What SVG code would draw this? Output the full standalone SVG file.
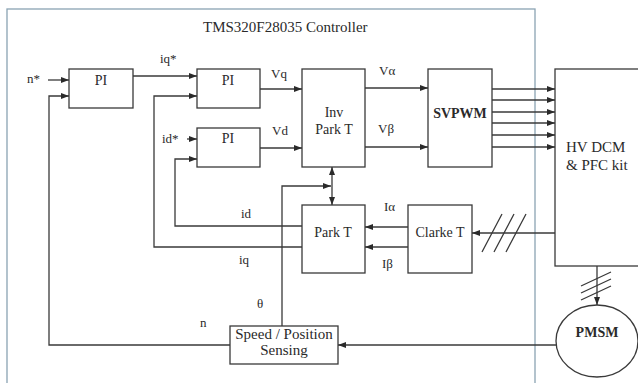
<svg xmlns="http://www.w3.org/2000/svg" width="638" height="383" viewBox="0 0 638 383" font-family="'Liberation Serif', 'DejaVu Serif', serif">
<style>
.box{fill:#fff;stroke:#3a3a3a;stroke-width:1.3}
.ln{fill:none;stroke:#3a3a3a;stroke-width:1.3}
.ar{marker-end:url(#ah)}
text{font-family:'Liberation Serif','DejaVu Serif',serif;fill:#2a2a2a;font-size:14px}
.c{text-anchor:middle}
.b{font-weight:bold}
.s{font-size:13px}
.l{font-size:15px}
</style>
<defs>
<marker id="ah" viewBox="0 0 8 6" refX="8" refY="3" markerWidth="8" markerHeight="6" markerUnits="userSpaceOnUse" orient="auto-start-reverse">
<path d="M0,0 L8,3 L0,6 z" fill="#2a2a2a"/>
</marker>
</defs>
<rect width="638" height="383" fill="#fff"/>
<g id="controller">
<rect x="7" y="9" width="528" height="380" fill="none" stroke="#8aa3b3" stroke-width="1.3"/>
<text class="l" x="203" y="32">TMS320F28035 Controller</text>
</g>
<g id="pi1"><rect class="box" x="69" y="69" width="64" height="39"/><text class="c" x="101" y="85">PI</text></g>
<g id="pi2"><rect class="box" x="197" y="69" width="63" height="39"/><text class="c" x="228" y="85">PI</text></g>
<g id="pi3"><rect class="box" x="197" y="128" width="63" height="39"/><text class="c" x="228" y="143">PI</text></g>
<g id="invpark"><rect class="box" x="302" y="69" width="63" height="98"/><text class="c" x="334" y="117">Inv</text><text class="c" x="334" y="134">Park T</text></g>
<g id="svpwm"><rect class="box" x="428" y="69" width="64" height="98"/><text class="c b" x="460" y="118">SVPWM</text></g>
<g id="hvkit"><rect class="box" x="555" y="69" width="90" height="197"/><text class="l" x="566" y="152">HV DCM</text><text class="l" x="566" y="170">&amp; PFC kit</text></g>
<g id="clarke"><rect class="box" x="408" y="205" width="64" height="68"/><text class="c" x="440" y="237">Clarke T</text></g>
<g id="park"><rect class="box" x="302" y="205" width="63" height="68"/><text class="c" x="333" y="237">Park T</text></g>
<g id="sensing"><rect class="box" x="230" y="326" width="108" height="38"/><text class="c l" x="284" y="339">Speed / Position</text><text class="c l" x="284" y="355">Sensing</text></g>
<g id="pmsm"><ellipse cx="597" cy="341" rx="41" ry="36" fill="#fff" stroke="#3a3a3a" stroke-width="1.3"/><text class="c b" x="597" y="337">PMSM</text></g>
<g id="connectors">
<path class="ln ar" d="M48,80 H69"/>
<path class="ln ar" d="M230,345 H49 V96 H69"/>
<path class="ln ar" d="M133,76 H197"/>
<path class="ln ar" d="M302,247 H154 V96 H197"/>
<path class="ln ar" d="M187,139 H197"/>
<path class="ln ar" d="M302,226 H175 V159 H197"/>
<path class="ln ar" d="M260,89 H302"/>
<path class="ln ar" d="M260,148 H302"/>
<path class="ln ar" d="M365,88 H428"/>
<path class="ln ar" d="M365,147 H428"/>
<path class="ln ar" d="M492,89 H555"/>
<path class="ln ar" d="M492,100 H555"/>
<path class="ln ar" d="M492,112 H555"/>
<path class="ln ar" d="M492,123 H555"/>
<path class="ln ar" d="M492,135 H555"/>
<path class="ln ar" d="M492,147 H555"/>
<path class="ln ar" d="M555,233 H472"/>
<path class="ln" d="M482,252 L502,214 M494,252 L514,214 M506,252 L526,214"/>
<path class="ln ar" d="M408,227 H365"/>
<path class="ln ar" d="M408,247 H365"/>
<path class="ln ar" d="M332,187 V167"/>
<path class="ln ar" d="M332,187 V205"/>
<path class="ln ar" d="M282,326 V186 H331"/>
<path class="ln ar" d="M597,266 V305"/>
<path class="ln" d="M581,286 L611,272 M581,293 L611,279 M581,300 L611,286"/>
<path class="ln ar" d="M556,345 H338"/>
</g>
<g id="labels">
<text class="s" x="27" y="83">n*</text>
<text class="s" x="160" y="63">iq*</text>
<text class="s" x="271" y="78">Vq</text>
<text class="s" x="162" y="143">id*</text>
<text class="s" x="272" y="135">Vd</text>
<text class="s" x="379" y="75">Vα</text>
<text class="s" x="378" y="133">Vβ</text>
<text class="s" x="384" y="211">Iα</text>
<text class="s" x="382" y="268">Iβ</text>
<text class="s" x="241" y="218">id</text>
<text class="s" x="239" y="264">iq</text>
<text class="s" x="257" y="308">θ</text>
<text class="s" x="200" y="327">n</text>
</g>
</svg>
